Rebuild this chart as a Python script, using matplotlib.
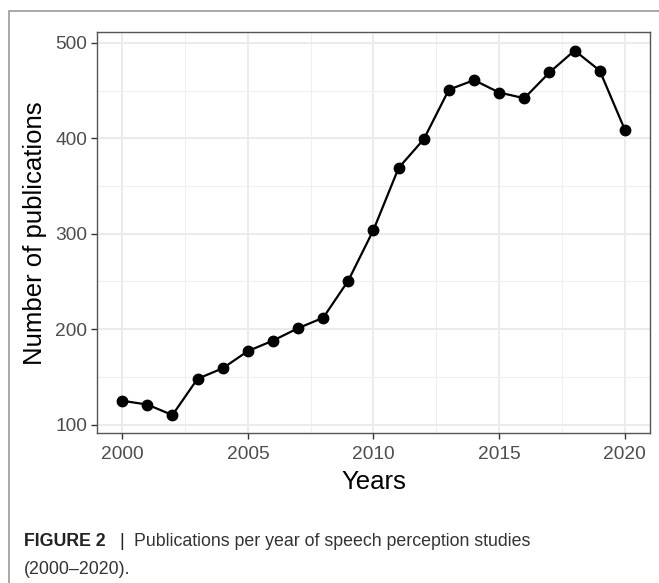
import matplotlib.pyplot as plt
from matplotlib.patches import Rectangle
from matplotlib.ticker import MultipleLocator

plt.rcParams['font.family'] = ['Liberation Sans', 'DejaVu Sans']

# publications per year
years = list(range(2000, 2021))
counts = [125, 121, 110, 148, 159, 177, 188, 201, 212, 251, 304,
          369, 399, 451, 461, 448, 442, 469, 492, 471, 409]

fig = plt.figure(figsize=(6.59, 5.83), dpi=100)
ax = fig.add_axes([0.1472, 0.2568, 0.8391, 0.6878])

ax.plot(years, counts, color="black", lw=1.6, zorder=3)
ax.plot(years, counts, "o", color="black", ms=7.5, zorder=4)

lo, hi = min(counts), max(counts)
pad = (hi - lo) * 0.05
ax.set_ylim(lo - pad, hi + pad)
ax.set_xlim(years[0] - 1, years[-1] + 1)

ax.xaxis.set_major_locator(MultipleLocator(5))
ax.xaxis.set_minor_locator(MultipleLocator(2.5))
ax.yaxis.set_major_locator(MultipleLocator(100))
ax.yaxis.set_minor_locator(MultipleLocator(50))
ax.grid(which="major", color="#EBEBEB", lw=1.4, zorder=0)
ax.grid(which="minor", color="#EFEFEF", lw=0.8, zorder=0)
ax.tick_params(which="minor", length=0)
ax.tick_params(which="major", length=4, width=1, color="#333333",
               labelcolor="#4D4D4D", labelsize=13.8)
ax.tick_params(axis="x", pad=5)
ax.tick_params(axis="y", pad=3)

for s in ax.spines.values():
    s.set_color("#555555")
    s.set_linewidth(1)

ax.set_xlabel("Years", fontsize=18.5, labelpad=5)
ax.set_ylabel("Number of publications", fontsize=18.5, labelpad=6)

# outer frame of the figure box
fig.patches.append(Rectangle((9 / 659, -0.1), 1.2, 1 - 11 / 583 + 0.1,
                             transform=fig.transFigure, fill=False,
                             edgecolor="#999999", lw=1.2))

cap_y1 = 1 - 541 / 583
cap_y2 = 1 - 570 / 583
fig.text(24 / 659, cap_y1, "FIGURE 2", fontsize=12.8, fontweight="bold",
         va="center", ha="left", color="#222222")
fig.text(122 / 659, cap_y1, "|", fontsize=12.8, va="center", ha="center",
         color="#222222")
fig.text(134 / 659, cap_y1, "Publications per year of speech perception studies",
         fontsize=12.8, va="center", ha="left", color="#333333")
fig.text(24 / 659, cap_y2, "(2000–2020).", fontsize=12.8, va="center",
         ha="left", color="#333333")

fig.savefig("out.png", dpi=100)
